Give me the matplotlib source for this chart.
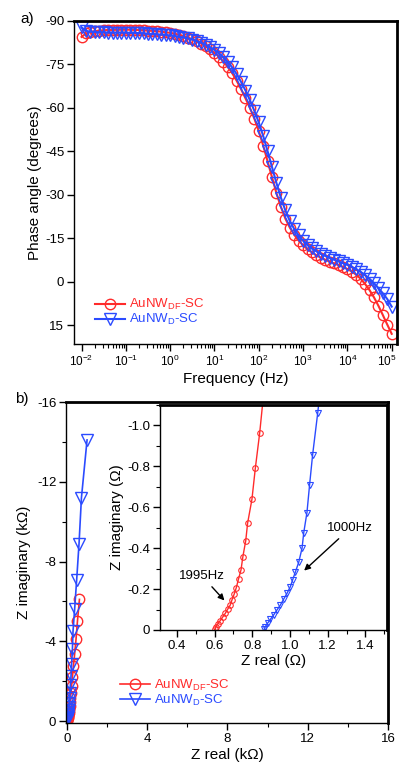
"""Bode phase plot and Nyquist plot for AuNW supercapacitors."""

import numpy as np
import matplotlib
matplotlib.use("Agg")
import matplotlib.pyplot as plt
from matplotlib.ticker import MultipleLocator, FixedLocator, FixedFormatter, NullFormatter
from matplotlib.transforms import ScaledTranslation

plt.rcParams["font.family"] = ["Liberation Sans", "DejaVu Sans"]
plt.rcParams["axes.unicode_minus"] = False
plt.rcParams["mathtext.fontset"] = "custom"
plt.rcParams["mathtext.rm"] = "Liberation Sans"

RED = "#ff2b2b"
BLUE = "#2b4bff"
LABEL_DF = r"AuNW$_{\mathregular{DF}}$-SC"
LABEL_D = r"AuNW$_{\mathregular{D}}$-SC"

# ---- panel a): phase angle vs frequency (10 points per decade, 1e-2 .. 1e5 Hz)
freq_hz = np.logspace(-2, 5, 71)
phase_df = [
    -84.5, -85.7, -86.2, -86.5, -86.7, -86.8, -86.9, -86.9, -87.0, -87.0,
    -87.0, -87.0, -86.9, -86.9, -86.8, -86.7, -86.6, -86.5, -86.3, -86.1,
    -85.9, -85.6, -85.2, -84.8, -84.3, -83.7, -83.0, -82.2, -81.2, -80.2,
    -79.0, -77.7, -76.0, -74.2, -72.0, -69.4, -66.5, -63.3, -60.0, -56.3,
    -52.0, -47.0, -41.5, -36.0, -30.5, -25.8, -21.8, -18.7, -16.2, -14.2,
    -12.6, -11.2, -10.1, -9.1, -8.3, -7.6, -6.9, -6.3, -5.7, -5.1,
    -4.4, -3.5, -2.4, -1.0, 0.8, 2.9, 5.4, 8.3, 11.5, 14.8,
    18.0,
]
phase_d = [
    -87.8, -86.6, -86.3, -86.2, -86.1, -86.1, -86.0, -86.0, -86.0, -86.0,
    -86.0, -85.9, -85.9, -85.8, -85.7, -85.6, -85.5, -85.4, -85.3, -85.2,
    -85.0, -84.8, -84.6, -84.3, -84.0, -83.6, -83.1, -82.5, -81.8, -81.0,
    -80.0, -78.9, -77.5, -75.9, -74.0, -71.7, -69.0, -66.0, -62.7, -59.0,
    -55.0, -50.3, -45.0, -39.5, -34.0, -29.0, -24.6, -21.0, -18.2, -16.0,
    -14.2, -12.7, -11.5, -10.5, -9.6, -8.9, -8.2, -7.6, -7.0, -6.4,
    -5.8, -5.1, -4.3, -3.4, -2.3, -1.0, 0.5, 2.2, 4.0, 6.0,
    8.6,
]
freq_ticks = [1e-2, 1e-1, 1e0, 1e1, 1e2, 1e3, 1e4, 1e5]
freq_tick_labels = [r"10$^{\mathregular{-2}}$", r"10$^{\mathregular{-1}}$",
                    r"10$^{\mathregular{0}}$", r"10$^{\mathregular{1}}$",
                    r"10$^{\mathregular{2}}$", r"10$^{\mathregular{3}}$",
                    r"10$^{\mathregular{4}}$", r"10$^{\mathregular{5}}$"]

# ---- panel b): Nyquist plot (kOhm)
zre_df = [0.62, 0.52, 0.45, 0.38, 0.32, 0.27, 0.23, 0.2, 0.17, 0.15, 0.13,
          0.11, 0.09, 0.08, 0.06, 0.05, 0.04, 0.03, 0.02, 0.01, 0.0]
zim_df = [-6.1, -5.0, -4.1, -3.35, -2.75, -2.2, -1.78, -1.43, -1.15, -0.93,
          -0.75, -0.6, -0.48, -0.38, -0.3, -0.24, -0.18, -0.13, -0.09, -0.05,
          -0.02]
zre_d = [1.0, 0.72, 0.6, 0.48, 0.38, 0.3, 0.27, 0.23, 0.2, 0.17, 0.15, 0.13,
         0.11, 0.09, 0.08, 0.06, 0.05, 0.04, 0.03, 0.02, 0.01, 0.0]
zim_d = [-14.1, -11.2, -8.9, -7.05, -5.6, -4.5, -3.6, -2.85, -2.25, -1.8,
         -1.42, -1.13, -0.9, -0.72, -0.57, -0.45, -0.36, -0.28, -0.22, -0.16,
         -0.1, -0.05]

# inset: high-frequency region (Ohm)
ins_re_df = [0.865, 0.839, 0.816, 0.798, 0.775, 0.765, 0.750, 0.740, 0.727,
             0.715, 0.704, 0.692, 0.683, 0.669, 0.657, 0.642, 0.630, 0.616,
             0.607, 0.603]
ins_im_df = [-1.2, -0.962, -0.791, -0.639, -0.522, -0.436, -0.359, -0.294,
             -0.250, -0.207, -0.176, -0.147, -0.122, -0.101, -0.082, -0.062,
             -0.046, -0.029, -0.016, -0.003]
ins_re_d = [1.17, 1.147, 1.120, 1.104, 1.090, 1.073, 1.064, 1.046, 1.028,
            1.014, 1.002, 0.984, 0.966, 0.949, 0.931, 0.913, 0.896, 0.881,
            0.869, 0.864]
ins_im_d = [-1.25, -1.060, -0.856, -0.710, -0.574, -0.476, -0.400, -0.330,
            -0.282, -0.245, -0.212, -0.179, -0.150, -0.122, -0.098, -0.073,
            -0.052, -0.033, -0.016, -0.003]


def style_axes(ax, fs=9.5):
    for side in ["left", "bottom"]:
        ax.spines[side].set_linewidth(1.0)
    for side in ["top", "right"]:
        ax.spines[side].set_linewidth(2.0)
    ax.tick_params(which="both", direction="out", top=False, right=False,
                   labelsize=fs, pad=2)
    ax.tick_params(which="major", length=5, width=1)
    ax.tick_params(which="minor", length=3, width=0.8)


fig = plt.figure(figsize=(3.99, 7.69), dpi=100)

# ---------------- panel a)
ax1 = fig.add_axes([0.1855, 0.5527, 0.8095, 0.42])
ax1.plot(freq_hz, phase_df, color=RED, lw=1.5, marker="o", ms=7.5,
         mfc="none", mew=1.0, label=LABEL_DF)
ax1.plot(freq_hz, phase_d, color=BLUE, lw=1.5, marker="v", ms=8,
         mfc="none", mew=1.0, label=LABEL_D)
ax1.set_xscale("log")
ax1.set_xlim(10 ** -2.17, 10 ** 5.12)
ax1.set_ylim(21.5, -90)
ax1.set_yticks([-90, -75, -60, -45, -30, -15, 0, 15])
ax1.xaxis.set_major_locator(FixedLocator(freq_ticks))
ax1.xaxis.set_major_formatter(FixedFormatter(freq_tick_labels))
minor = [m * d for d in freq_ticks[:-1] for m in range(2, 10)]
ax1.xaxis.set_minor_locator(FixedLocator(minor))
ax1.xaxis.set_minor_formatter(NullFormatter())
style_axes(ax1)
ax1.tick_params(axis="x", labelsize=8.5)
# keep the last decade label inside the figure edge
last = ax1.xaxis.get_major_ticks()[-1].label1
last.set_transform(last.get_transform() + ScaledTranslation(-0.05, 0, fig.dpi_scale_trans))
ax1.set_xlabel("Frequency (Hz)", fontsize=11, labelpad=2)
ax1.set_ylabel("Phase angle (degrees)", fontsize=11, labelpad=2)
ax1.legend(loc="lower left", bbox_to_anchor=(0.049, 0.035), frameon=False,
           fontsize=9.5, handlelength=2.3, handletextpad=0.3,
           labelspacing=0.0, labelcolor="linecolor", borderaxespad=0)
fig.text(0.05, 0.985, "a)", fontsize=11, va="top")

# ---------------- panel b)
ax2 = fig.add_axes([0.1654, 0.0598, 0.807, 0.4174])
ax2.plot(zre_df, zim_df, color=RED, lw=1.2, marker="o", ms=7.5,
         mfc="none", mew=1.0, label=LABEL_DF)
ax2.plot(zre_d, zim_d, color=BLUE, lw=1.2, marker="v", ms=8,
         mfc="none", mew=1.0, label=LABEL_D)
ax2.set_xlim(-0.05, 16)
ax2.set_ylim(0.1, -16)
ax2.set_xticks([0, 4, 8, 12, 16])
ax2.set_yticks([0, -4, -8, -12, -16])
ax2.xaxis.set_minor_locator(MultipleLocator(2))
ax2.yaxis.set_minor_locator(MultipleLocator(2))
style_axes(ax2)
ax2.set_xlabel("Z real (k\u03a9)", fontsize=11, labelpad=2)
ax2.set_ylabel("Z imaginary (k\u03a9)", fontsize=11, labelpad=4)
ax2.legend(loc="lower left", bbox_to_anchor=(0.15, 0.03), frameon=False,
           fontsize=9.5, handlelength=2.3, handletextpad=0.3,
           labelspacing=0.0, labelcolor="linecolor", borderaxespad=0)
fig.text(0.038, 0.49, "b)", fontsize=11, va="top")

# ---------------- inset
ax3 = fig.add_axes([0.401, 0.1808, 0.569, 0.2926])
ax3.plot(ins_re_df, ins_im_df, color=RED, lw=1.0, marker="o", ms=4,
         mfc="none", mew=0.8)
ax3.plot(ins_re_d, ins_im_d, color=BLUE, lw=1.0, marker="v", ms=4.5,
         mfc="none", mew=0.8)
ax3.set_xlim(0.31, 1.515)
ax3.set_ylim(0, -1.1)
ax3.set_xticks([0.4, 0.6, 0.8, 1.0, 1.2, 1.4])
ax3.set_yticks([0, -0.2, -0.4, -0.6, -0.8, -1.0])
ax3.set_yticklabels(["0", "-0.2", "-0.4", "-0.6", "-0.8", "-1.0"])
ax3.xaxis.set_minor_locator(MultipleLocator(0.1))
ax3.yaxis.set_minor_locator(MultipleLocator(0.1))
style_axes(ax3)
ax3.set_xlabel("Z real (\u03a9)", fontsize=11, labelpad=2)
ax3.set_ylabel("Z imaginary (\u03a9)", fontsize=11, labelpad=2)

arrow = dict(arrowstyle="-|>", color="black", lw=1.0, mutation_scale=9)
ax3.annotate("1995Hz", xy=(0.662, -0.134), xytext=(0.533, -0.264),
             fontsize=9.5, ha="center", va="center", arrowprops=arrow)
ax3.annotate("1000Hz", xy=(1.064, -0.281), xytext=(1.32, -0.498),
             fontsize=9.5, ha="center", va="center", arrowprops=arrow)

fig.savefig("out.png", dpi=100)
